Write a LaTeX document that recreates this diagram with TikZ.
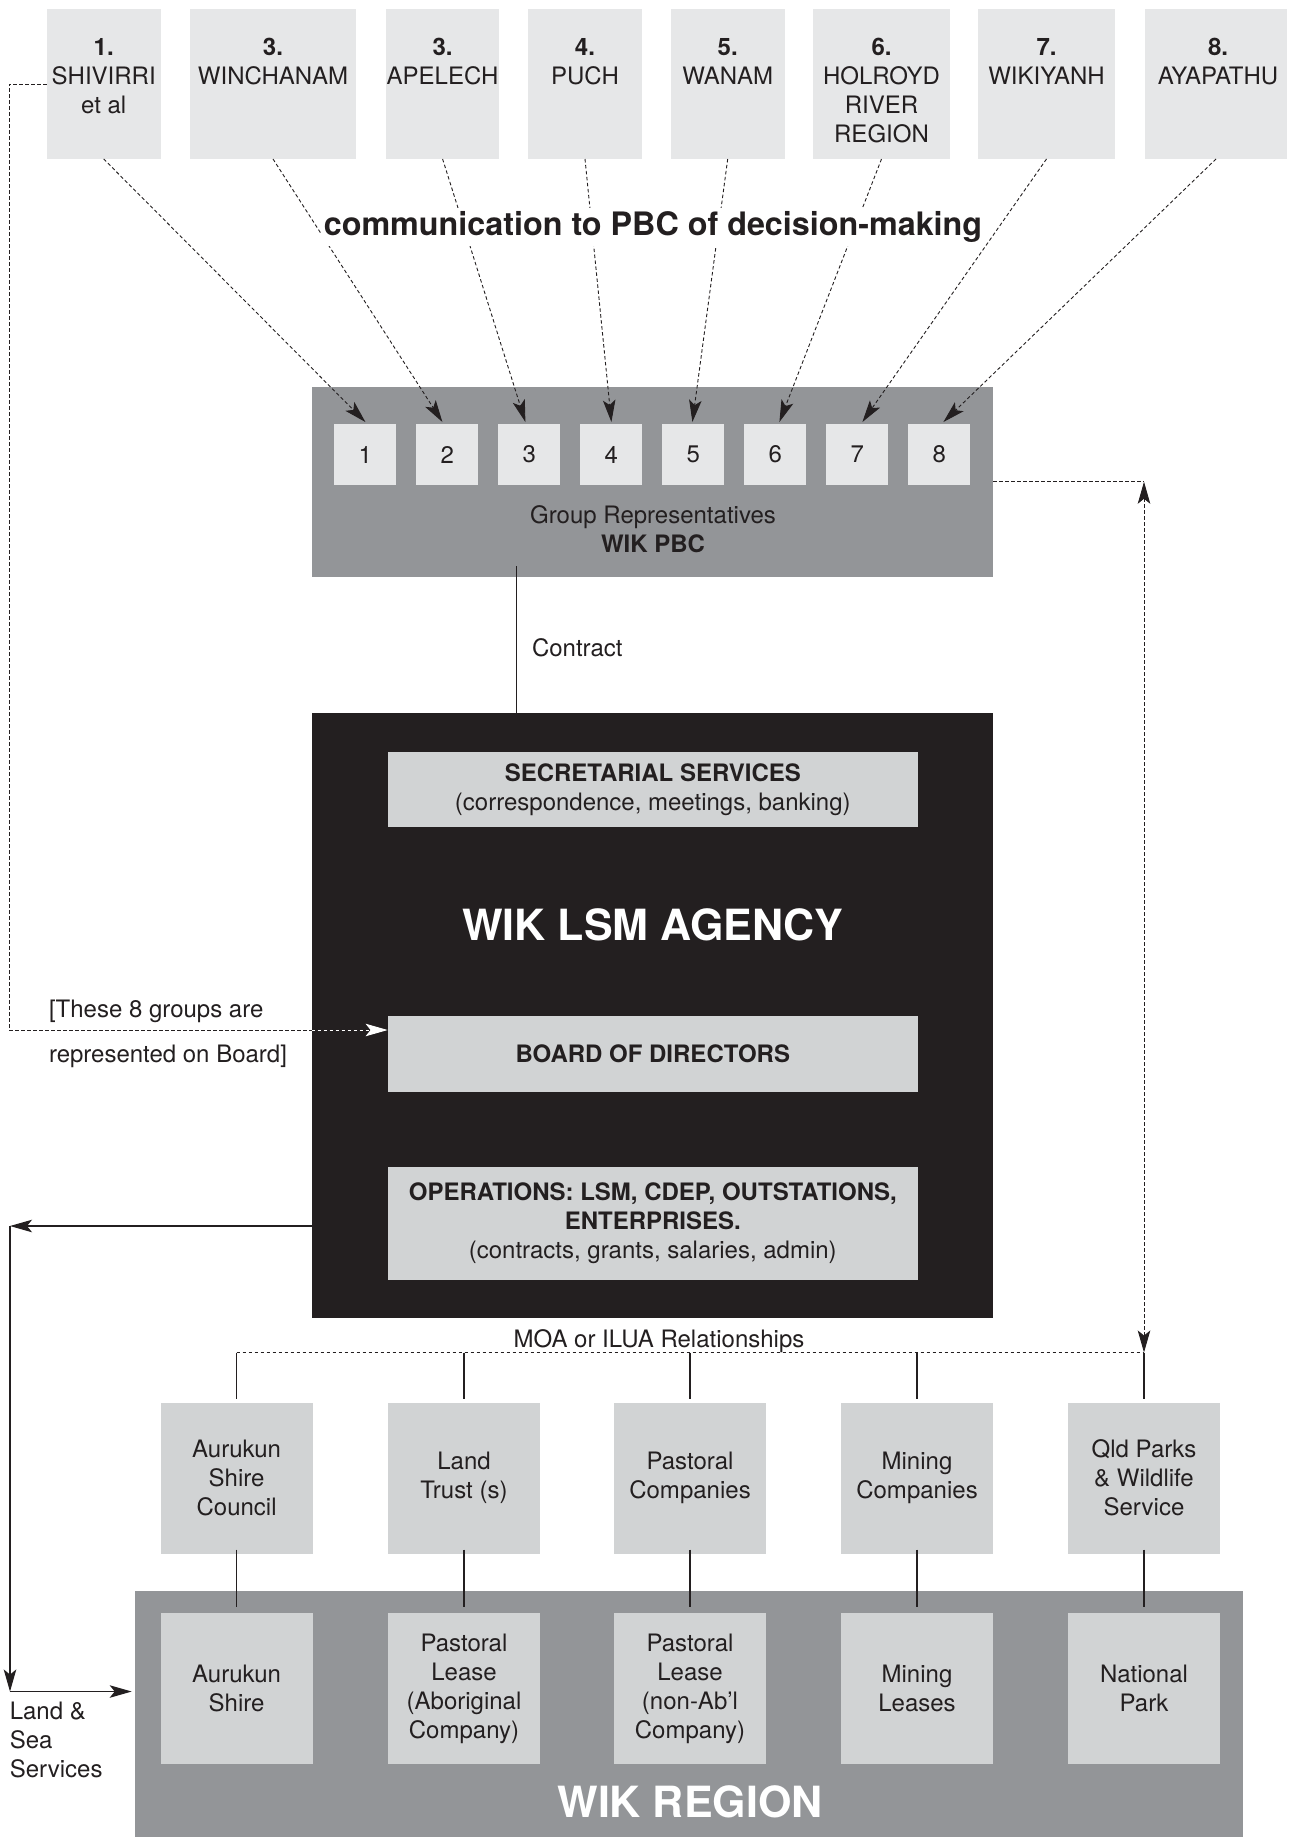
\documentclass[tikz,border=0pt]{standalone}
\usepackage{fontspec}
\setmainfont{TeX Gyre Heros}
\usetikzlibrary{arrows.meta,calc}

\definecolor{ink}{HTML}{231F20}
\definecolor{paleg}{HTML}{E6E7E8}
\definecolor{lightg}{HTML}{D1D3D4}
\definecolor{midg}{HTML}{939598}

\begin{document}
\begin{tikzpicture}[x=1pt,y=-1pt]
\tikzset{
  every node/.style={inner sep=0pt, outer sep=0pt, text=ink, align=center,
                     font=\fontsize{24}{29}\selectfont},
  grpbox/.style={fill=paleg, minimum height=150pt, minimum width=#1},
  repbox/.style={fill=paleg, minimum width=62pt, minimum height=61pt},
  panel/.style={fill=lightg, minimum width=530.4pt},
  landbox/.style={fill=lightg, minimum width=152pt, minimum height=151pt},
  dashline/.style={draw=ink, line width=0.9pt, dash pattern=on 3.5pt off 2.5pt},
  solidline/.style={draw=ink, line width=1.1pt},
  arrowend/.style={-{Stealth[length=22pt,width=12.5pt,inset=5pt]}},
  arrowboth/.style={{Stealth[length=22pt,width=12.5pt,inset=5pt]}-{Stealth[length=22pt,width=12.5pt,inset=5pt]}},
}

\fill[white] (0,0) rectangle (1299,1837);
\useasboundingbox (0,0) rectangle (1299,1837);

% ---- the eight groups ----
\node[grpbox=114pt] (g1) at (103.7,84) {};
\node[grpbox=166pt] (g2) at (273,84) {};
\node[grpbox=113pt] (g3) at (442.6,84) {};
\node[grpbox=114pt] (g4) at (585,84) {};
\node[grpbox=114pt] (g5) at (727.7,84) {};
\node[grpbox=137pt] (g6) at (881.5,84) {};
\node[grpbox=137pt] (g7) at (1046.5,84) {};
\node[grpbox=142pt] (g8) at (1216,84) {};

\node[anchor=north] (n1) at (103.7,38) {\textbf{1.}\\SHIVIRRI\\et al};
\node[anchor=north] (n2) at (273,38) {\textbf{3.}\\WINCHANAM};
\node[anchor=north] (n3) at (442.6,38) {\textbf{3.}\\APELECH};
\node[anchor=north] (n4) at (585,38) {\textbf{4.}\\PUCH};
\node[anchor=north] (n5) at (727.7,38) {\textbf{5.}\\WANAM};
\node[anchor=north] (n6) at (881.5,38) {\textbf{6.}\\HOLROYD\\RIVER\\REGION};
\node[anchor=north] (n7) at (1046.5,38) {\textbf{7.}\\WIKIYANH};
\node[anchor=north] (n8) at (1218,38) {\textbf{8.}\\AYAPATHU};

% ---- PBC ----
\node[fill=midg, minimum width=681.7pt, minimum height=190.5pt] (pbc) at (652.5,481.75) {};
\foreach \i in {1,...,8}
  \node[repbox] (s\i) at ({365.4+82*(\i-1)},454.5) {\i};
\node (pbclabel) at (653,529.5) {Group Representatives\\\textbf{WIK PBC}};

% ---- agency ----
\node[fill=ink, minimum width=681.7pt, minimum height=604.4pt] (agency) at (652.5,1015.5) {};
\node[panel, minimum height=75pt] (sec) at (652.8,789.5)
  {\textbf{SECRETARIAL SERVICES}\\(correspondence, meetings, banking)};
\node[text=white, font=\bfseries\fontsize{43}{50}\selectfont] (agencyname) at (652.8,925) {WIK LSM AGENCY};
\node[panel, minimum height=76pt] (board) at (652.8,1054) {\textbf{BOARD OF DIRECTORS}};
\node[panel, minimum height=113pt] (ops) at (652.8,1223)
  {\textbf{OPERATIONS: LSM, CDEP, OUTSTATIONS,}\\\textbf{ENTERPRISES.}\\(contracts, grants, salaries, admin)};

\node[anchor=base west] (note1) at (49,1017.6) {[These 8 groups are};
\node[anchor=base west] (note2) at (49,1062) {represented on Board]};

% ---- partners and land ----
\node[landbox] (m1) at (236.6,1478) {Aurukun\\Shire\\Council};
\node[landbox] (m2) at (464,1478) {Land\\Trust (s)};
\node[landbox] (m3) at (690,1478) {Pastoral\\Companies};
\node[landbox] (m4) at (917,1478) {Mining\\Companies};
\node[landbox] (m5) at (1144,1478) {Qld Parks\\\& Wildlife\\Service};

\node[fill=midg, minimum width=1108pt, minimum height=246pt] (region) at (688.7,1714) {};
\node[landbox] (b1) at (236.6,1688.5) {Aurukun\\Shire};
\node[landbox] (b2) at (464,1688.5) {Pastoral\\Lease\\(Aboriginal\\Company)};
\node[landbox] (b3) at (690,1688.5) {Pastoral\\Lease\\(non-Ab’l\\Company)};
\node[landbox] (b4) at (917,1688.5) {Mining\\Leases};
\node[landbox] (b5) at (1144,1688.5) {National\\Park};
\node[text=white, font=\bfseries\fontsize{43}{50}\selectfont] (regionname) at (690,1802) {WIK REGION};

\node[anchor=north west, align=left] (lss) at (9.8,1702) {Land \&\\Sea\\Services};

% ---- communication arrows ----
\foreach \i/\dx in {1/0,2/-5,3/-4,4/0,5/-1,6/4,7/5,8/4}
  \draw[dashline, arrowend] (g\i.south) -- ($(s\i.north)+(\dx,-2)$);

\node[fill=white, inner sep=3pt, font=\bfseries\fontsize{32.3}{38}\selectfont] (title) at (653,227)
  {communication to PBC of decision-making};

% groups represented on the board
\coordinate (lx) at (9,0);
\coordinate (bd) at ($(board.west)+(0,-24)$);
\draw[dashline] (g1.west) -- (g1.west -| lx) |- (bd -| agency.west);
\draw[dashline, draw=white, -{Stealth[length=22pt,width=12.5pt,inset=5pt,fill=white]}] (bd -| agency.west) -- (bd);

% contract
\coordinate (cx) at (516.5,0);
\draw[solidline] ($(pbc.south -| cx)+(0,-11)$) -- (sec.north -| cx);
\node[anchor=base west] (contract) at (532,656.6) {Contract};

% MOA / ILUA relationships
\coordinate (moaL) at (236.6,1352.5);
\coordinate (moaR) at (1144,1352.5);
\draw[dashline] (moaL) -- (moaR);
\node[anchor=base] (moa) at (659,1347.6) {MOA or ILUA Relationships};
\foreach \i in {1,...,5}
  \draw[solidline] (m\i.north |- moaL) -- ($(m\i.north)+(0,-4)$);

\draw[dashline] (pbc.east) -- (pbc.east -| moaR);
\draw[dashline, arrowboth] (pbc.east -| moaR) -- (moaR);

% partners to land
\foreach \i in {1,...,5}
  \draw[solidline] ($(m\i.south)+(0,-4)$) -- ($(b\i.north)+(0,-6)$);

% land and sea services
\coordinate (lc1) at (10,1226);
\coordinate (lc2) at (10,1691.5);
\draw[solidline, arrowend] (agency.west |- lc1) -- (lc1);
\draw[solidline, arrowend] (lc1) -- (lc2);
\draw[solidline, arrowend] (lc2) -- ($(region.west |- lc2)+(-3,0)$);
\end{tikzpicture}
\end{document}
